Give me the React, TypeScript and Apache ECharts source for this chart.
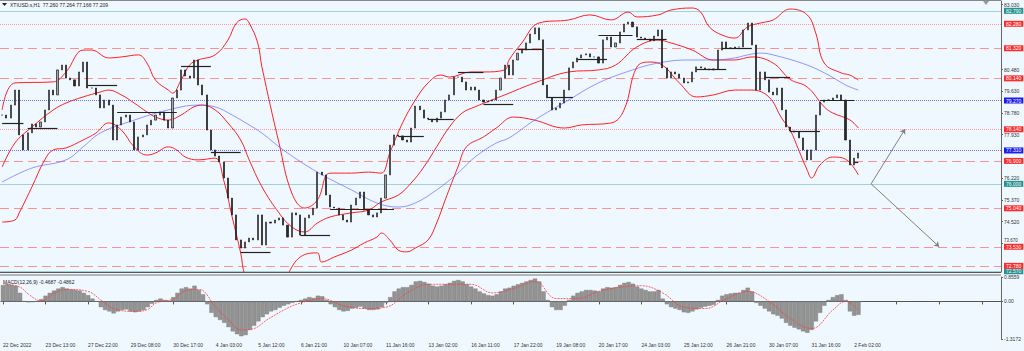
import React, { useEffect, useRef } from "react";
import * as echarts from "echarts";

// ---------- DATA ----------
const tickLabels = ["22 Dec 2022","23 Dec 13:00","27 Dec 22:00","29 Dec 08:00","30 Dec 17:00","4 Jan 03:00","5 Jan 12:00","6 Jan 21:00","10 Jan 07:00","11 Jan 16:00","13 Jan 02:00","16 Jan 11:00","17 Jan 22:00","19 Jan 08:00","20 Jan 17:00","24 Jan 03:00","25 Jan 12:00","26 Jan 21:00","30 Jan 07:00","31 Jan 16:00","2 Feb 02:00"];
const totalSlots = 235;

const closes = [
78.70,78.58,79.09,79.68,77.92,77.33,78.00,78.35,78.23,78.43,
78.90,79.68,79.49,80.47,80.66,80.15,80.08,79.84,80.39,80.78,
79.76,79.76,79.49,78.98,79.29,79.09,77.72,78.31,78.62,78.70,
78.43,77.33,77.84,77.92,78.31,78.50,78.70,78.82,78.50,78.19,
79.37,79.68,80.47,80.23,80.15,80.86,79.88,79.49,78.11,77.33,
77.09,76.86,76.23,75.44,74.78,73.80,73.48,73.72,73.87,73.80,
74.78,73.60,74.50,74.46,74.58,74.66,74.38,73.91,74.86,74.78,
73.99,74.66,74.78,75.05,76.46,76.35,75.56,75.09,75.05,74.78,
74.58,74.50,75.17,75.44,75.68,74.97,74.78,74.70,74.86,75.44,
76.35,77.52,77.92,77.88,77.72,77.64,78.19,79.05,78.90,78.58,
78.54,78.43,78.58,78.82,79.29,79.49,80.19,80.19,80.00,79.68,
79.80,79.68,79.29,79.21,79.25,79.29,79.68,80.15,80.66,80.27,
80.86,81.13,81.25,81.53,81.88,82.12,81.65,79.88,79.37,78.90,
78.98,79.17,79.68,80.55,80.78,80.94,81.06,81.10,80.98,80.98,
80.74,81.65,81.76,81.37,81.53,81.96,82.27,82.35,82.16,81.76,
81.72,81.68,81.61,81.80,82.04,80.55,80.15,80.39,80.31,80.15,
79.96,80.00,80.39,80.59,80.55,80.51,80.47,80.51,81.25,81.57,
81.33,81.33,81.37,81.37,82.04,82.31,81.45,79.68,80.39,80.08,
79.60,79.49,79.76,78.90,78.23,78.07,78.03,77.80,77.33,76.94,
77.33,78.70,79.21,79.29,79.29,79.37,79.49,79.29,77.72,76.74,
77.01,77.21
];

const bbUpper: [number, number][] = [[0,78.90],[3,79.96],[12,80.00],[15,80.39],[19,81.25],[21,81.25],[25,80.94],[28,80.98],[32,81.06],[34,80.74],[36,80.07],[39,79.68],[40,79.56],[42,80.07],[44,80.66],[46,80.86],[50,81.06],[53,81.64],[55,82.31],[57,82.47],[58,82.31],[60,81.53],[61,80.58],[65,77.60],[68,75.64],[71,75.05],[74,75.36],[77,76.42],[82,76.42],[86,76.46],[89,76.42],[91,77.21],[94,78.39],[97,79.29],[100,79.96],[103,80.27],[105,80.19],[110,80.39],[113,80.39],[118,80.47],[119,80.86],[122,81.53],[126,82.31],[133,82.43],[138,82.63],[143,82.43],[147,82.74],[149,82.55],[154,82.63],[157,82.82],[162,82.90],[164,82.74],[166,82.16],[169,81.84],[172,81.72],[175,82.16],[178,82.31],[181,82.43],[185,82.86],[189,82.63],[191,81.92],[193,80.74],[197,80.35],[199,80.27],[201,80.07]];
const bbMiddle: [number, number][] = [[0,76.66],[3,77.60],[7,78.23],[12,78.90],[15,79.17],[19,79.41],[23,79.60],[25,79.68],[28,79.49],[31,79.17],[34,78.82],[36,78.62],[39,78.50],[42,78.70],[45,79.02],[47,79.09],[50,78.90],[53,78.39],[56,77.72],[58,76.94],[61,75.88],[65,74.86],[68,74.31],[71,74.11],[74,74.46],[77,74.70],[82,74.86],[86,74.97],[89,75.29],[93,75.56],[96,76.03],[99,76.66],[102,77.45],[105,78.23],[108,78.78],[111,79.02],[115,79.29],[118,79.49],[125,79.96],[133,80.39],[140,80.47],[144,80.66],[149,81.37],[154,81.64],[157,81.53],[162,81.25],[167,80.86],[172,80.86],[176,80.98],[181,80.74],[185,80.10],[189,79.80],[193,79.02],[195,78.78],[199,78.51],[201,78.19]];
const bbLower: [number, number][] = [[0,74.50],[3,74.58],[4,74.86],[7,75.88],[10,76.94],[12,77.33],[15,77.41],[19,77.72],[22,77.99],[25,78.39],[28,78.11],[31,77.45],[34,77.13],[36,77.21],[39,77.45],[41,77.33],[43,77.05],[46,76.94],[50,77.01],[52,76.15],[54,74.70],[56,73.29],[57,72.42],[60,71.44],[63,70.97],[65,71.64],[67,72.42],[70,73.13],[74,73.29],[75,72.93],[78,73.13],[82,73.40],[85,73.68],[88,73.91],[89,74.07],[91,73.80],[93,73.40],[95,73.33],[97,73.48],[100,73.80],[102,74.46],[104,75.36],[107,76.66],[109,77.45],[113,77.84],[116,78.19],[120,78.62],[125,78.50],[132,78.19],[136,78.31],[143,78.39],[146,78.90],[149,80.58],[152,80.78],[155,80.66],[159,79.96],[163,79.41],[167,79.49],[172,79.68],[176,79.68],[180,79.41],[183,78.58],[185,78.11],[187,77.33],[189,76.54],[190,76.23],[192,76.74],[195,77.05],[198,76.97],[201,76.35]];
const maBlue: [number, number][] = [[0,76.07],[7,76.62],[15,76.94],[19,77.45],[23,77.99],[31,78.50],[39,78.90],[46,79.09],[50,79.02],[54,78.70],[58,78.31],[61,77.99],[66,77.33],[74,76.46],[82,75.76],[88,75.25],[93,75.09],[97,75.25],[102,75.76],[107,76.42],[111,77.05],[116,77.60],[119,77.80],[125,78.50],[133,79.29],[140,79.96],[148,80.47],[154,80.74],[161,80.86],[167,80.86],[172,80.94],[175,81.06],[178,81.13],[181,81.06],[189,80.66],[194,80.27],[198,79.88],[201,79.68]];

// [startIndex, endIndex, price]
const pivotSegments: [number, number, number][] = [[0,5,78.39],[6,13,78.19],[20,27,79.88],[27,41,78.82],[42,49,80.62],[49,56,77.25],[56,63,73.32],[70,77,73.99],[77,92,75.01],[93,99,77.88],[100,106,78.54],[107,113,80.39],[113,120,79.13],[121,127,81.29],[128,134,79.41],[135,142,80.90],[140,148,81.84],[149,156,81.68],[163,170,80.51],[169,176,81.33],[179,185,80.19],[185,192,78.07],[192,200,79.29],[200,201,76.86]];

const tealLevels = [82.789, 76.0, 72.571];
const redDashLevels = [81.319, 80.135, 76.897, 75.040, 73.529, 72.776];
const redDotLevels = [82.284, 78.145];
const blueDotLevels = [79.266, 77.313];
const lastPrice = 77.209;
const priceTicks = [83.03, 80.48, 79.63, 78.78, 77.93, 76.22, 75.37, 74.52, 73.67];

const arrowStart: [number, number] = [204, 76.0];
const arrowEnds: [number, number][] = [[212, 78.15], [220, 73.53]];

const macdHist = [
0.57,0.60,0.58,0.55,0.30,0.00,-0.03,-0.02,0.00,0.08,
0.20,0.30,0.38,0.45,0.50,0.45,0.42,0.40,0.38,0.30,
0.22,0.10,0.00,-0.20,-0.30,-0.35,-0.42,-0.35,-0.30,-0.28,
-0.35,-0.38,-0.35,-0.30,-0.20,-0.08,0.05,0.10,0.05,0.02,
0.15,0.30,0.45,0.50,0.45,0.55,0.40,0.25,-0.10,-0.40,
-0.55,-0.65,-0.75,-0.90,-1.05,-1.15,-1.22,-1.18,-1.00,-0.85,
-0.70,-0.55,-0.45,-0.35,-0.30,-0.22,-0.15,-0.10,-0.05,0.00,
0.05,0.10,0.15,0.12,0.20,0.18,0.05,-0.10,-0.20,-0.30,
-0.35,-0.33,-0.25,-0.22,-0.18,-0.25,-0.30,-0.30,-0.28,-0.20,
-0.05,0.15,0.35,0.45,0.50,0.50,0.58,0.70,0.72,0.68,
0.62,0.55,0.52,0.55,0.60,0.65,0.72,0.75,0.70,0.60,
0.52,0.45,0.35,0.28,0.22,0.20,0.25,0.35,0.45,0.48,
0.55,0.60,0.65,0.70,0.75,0.80,0.70,0.35,0.05,-0.20,
-0.30,-0.30,-0.15,0.05,0.20,0.30,0.35,0.40,0.40,0.38,
0.35,0.45,0.50,0.48,0.50,0.58,0.65,0.68,0.62,0.52,
0.45,0.40,0.35,0.35,0.40,0.10,-0.10,-0.20,-0.25,-0.30,
-0.38,-0.40,-0.35,-0.28,-0.22,-0.18,-0.15,-0.12,0.05,0.20,
0.25,0.28,0.30,0.30,0.40,0.48,0.35,-0.05,-0.15,-0.25,
-0.35,-0.45,-0.50,-0.60,-0.75,-0.85,-0.92,-0.98,-1.05,-1.10,
-1.00,-0.70,-0.40,-0.15,0.05,0.15,0.22,0.25,0.05,-0.35,
-0.50,-0.47
];
const macdSignal: [number, number][] = [[0,0.62],[4,0.50],[6,0.25],[9,0.02],[12,0.28],[15,0.42],[20,0.35],[23,0.05],[26,-0.25],[31,-0.35],[34,-0.28],[36,-0.05],[40,0.08],[43,0.38],[46,0.42],[50,-0.20],[53,-0.65],[56,-1.00],[59,-0.95],[62,-0.65],[66,-0.30],[70,-0.05],[75,0.10],[80,-0.15],[85,-0.25],[90,-0.20],[95,0.30],[100,0.60],[105,0.60],[110,0.60],[115,0.30],[120,0.45],[125,0.70],[130,0.10],[135,0.10],[140,0.35],[145,0.50],[150,0.55],[155,0.30],[160,-0.20],[165,-0.25],[170,0.10],[175,0.35],[180,0.00],[185,-0.60],[190,-0.95],[195,-0.30],[198,0.00],[201,-0.30]];
const macdTicks = [0.8559, 0, -1.3172];

// ---------- CHART ----------
const FONT = "Liberation Sans";

export default function App() {
  const ref = useRef<HTMLDivElement>(null);
  useEffect(() => {
    const chart = echarts.init(ref.current!, null, { renderer: "svg" });
    const cats = Array.from({ length: totalSlots }, (_, i) => String(i));
    const candles = closes.map((c, i) => {
      const o = i === 0 ? c : closes[i - 1];
      return [o, c, Math.min(o, c), Math.max(o, c)];
    });

    const boxLabel = (bg: string, fg = "#fff", extra: any = {}) => ({
      show: true,
      position: "end",
      formatter: (p: any) => Number(p.value).toFixed(3),
      backgroundColor: bg,
      color: fg,
      fontSize: 5,
      lineHeight: 6,
      fontFamily: FONT,
      padding: [0, 2, 0, 2],
      distance: 3,
      ...extra,
    });

    const levelLines: any[] = [];
    levelLines.push({ yAxis: lastPrice, lineStyle: { opacity: 0 }, label: boxLabel("#000", "#fff", { fontSize: 4, lineHeight: 4.5, offset: [0, 3] }) });
    tealLevels.forEach((v) => levelLines.push({ yAxis: v, lineStyle: { color: "#9fd2d6", type: "solid", width: 1 }, label: boxLabel("#2a9090", "#e8ffff") }));
    redDashLevels.forEach((v) => levelLines.push({ yAxis: v, lineStyle: { color: "#ff9090", type: [9, 5], width: 1 }, label: boxLabel("#ff2b2b") }));
    redDotLevels.forEach((v) => levelLines.push({ yAxis: v, lineStyle: { color: "#ff9a9a", type: [1, 1], width: 1 }, label: boxLabel("#ff2b2b") }));
    blueDotLevels.forEach((v) => levelLines.push({ yAxis: v, lineStyle: { color: "#7070ff", type: [1, 1], width: 1 }, label: boxLabel("#1c1cf0") }));

    const bandStyle = (color: string, width = 1) => ({
      type: "line", xAxisIndex: 0, yAxisIndex: 0, smooth: 0.4, showSymbol: false, symbol: "none",
      lineStyle: { color, width }, silent: true, z: 3,
    });

    // price tick closest to a box is lifted a little so both stay readable
    const nearBox = (v: number) => redDashLevels.some((l) => Math.abs(l - v) < 0.2);

    const option: any = {
      animation: false,
      backgroundColor: "#f0f8ff",
      grid: [
        { left: 0, right: 23, top: 1, height: 271 },
        { left: 0, right: 23, top: 277, height: 62 },
      ],
      xAxis: [
        { type: "category", data: cats, gridIndex: 0, show: false, boundaryGap: true },
        {
          type: "category", data: cats, gridIndex: 1, boundaryGap: true,
          axisLine: { lineStyle: { color: "#555" } },
          axisTick: { show: true, interval: 9, alignWithLabel: true, length: 3, lineStyle: { color: "#555" } },
          axisLabel: {
            interval: 9, align: "left", fontSize: 5, color: "#333", margin: 3, fontFamily: FONT,
            formatter: (_v: string, idx: number) => (idx % 10 === 0 ? tickLabels[idx / 10] ?? "" : ""),
          },
          splitLine: { show: false },
        },
      ],
      yAxis: [
        {
          type: "value", gridIndex: 0, position: "right", min: 72.54, max: 83.175,
          splitLine: { show: false },
          axisLine: { show: true, lineStyle: { color: "#666" } },
          axisTick: { show: true, length: 2, customValues: priceTicks, lineStyle: { color: "#666" } },
          axisLabel: {
            customValues: priceTicks,
            formatter: (v: number) => (nearBox(v) ? `{u|${v.toFixed(3)}}` : v.toFixed(3)),
            rich: { u: { fontSize: 4.5, lineHeight: 4.5, padding: [0, 0, 5, 0], color: "#333", fontFamily: FONT } },
            fontSize: 5, lineHeight: 5, color: "#333", margin: 3, fontFamily: FONT,
          },
        },
        {
          type: "value", gridIndex: 1, position: "right", min: -1.3172, max: 0.8559,
          splitLine: { show: false },
          axisLine: { show: true, lineStyle: { color: "#666" } },
          axisTick: { show: true, length: 2, customValues: macdTicks, lineStyle: { color: "#666" } },
          axisLabel: { customValues: macdTicks, formatter: (v: number) => (v === 0 ? "0.00" : v.toFixed(4)), fontSize: 5, color: "#333", margin: 3, fontFamily: FONT },
        },
      ],
      series: [
        {
          type: "candlestick", xAxisIndex: 0, yAxisIndex: 0, data: candles, barWidth: 1.6, z: 4,
          itemStyle: { color: "#a8a8a8", color0: "#2a2a2a", borderColor: "#1a1a1a", borderColor0: "#1a1a1a", borderWidth: 0.7 },
          markLine: { silent: true, symbol: ["none", "none"], animation: false, data: levelLines, z: 1 },
        },
        { ...bandStyle("#ff2020"), name: "upper", data: bbUpper },
        {
          ...bandStyle("#ff2020"), name: "middle", data: bbMiddle,
          markLine: {
            silent: true, symbol: ["none", "none"], animation: false,
            lineStyle: { color: "#222", width: 1.2, type: "solid" }, label: { show: false },
            data: pivotSegments.map(([a, b, p]) => [{ coord: [a, p] }, { coord: [b, p] }]),
          },
        },
        { ...bandStyle("#ff2020"), name: "lower", data: bbLower },
        {
          ...bandStyle("rgba(90,90,255,0.7)", 0.9), name: "ma", data: maBlue,
          markLine: {
            silent: true, symbol: ["none", "arrow"], symbolSize: 5, animation: false,
            lineStyle: { color: "#808080", width: 1, type: "solid" }, label: { show: false },
            data: arrowEnds.map((e) => [{ coord: arrowStart }, { coord: e }]),
          },
        },
        {
          type: "bar", xAxisIndex: 1, yAxisIndex: 1, data: macdHist, barCategoryGap: "0%",
          itemStyle: { color: "#939393", borderColor: "#7a7a7a", borderWidth: 0.4 }, silent: true,
        },
        {
          type: "line", xAxisIndex: 1, yAxisIndex: 1, data: macdSignal, smooth: 0.4, symbol: "none",
          lineStyle: { color: "#ff3b3b", width: 0.8, type: [2, 1] }, silent: true, z: 5,
        },
      ],
      graphic: [
        { type: "line", shape: { x1: 0, y1: 0.5, x2: 1001, y2: 0.5 }, style: { stroke: "#888", lineWidth: 1 }, silent: true },
        { type: "rect", shape: { x: 0, y: 272, width: 1001, height: 1 }, style: { fill: "#555" }, silent: true },
        { type: "rect", shape: { x: 0, y: 274.5, width: 1001, height: 1 }, style: { fill: "#777" }, silent: true },
        { type: "polygon", shape: { points: [[2, 3], [7, 3], [4.5, 6]] }, style: { fill: "#222" }, silent: true },
        { type: "text", x: 10, y: 2, style: { text: "XTIUSD.s,H1  77.260 77.264 77.166 77.209", fontSize: 5, fill: "#222", fontFamily: FONT }, silent: true },
        { type: "text", x: 3, y: 279, style: { text: "MACD(12,26,9) -0.4687 -0.4862", fontSize: 5, fill: "#222", fontFamily: FONT }, silent: true },
        { type: "polygon", shape: { points: [[983, 1], [989, 1], [986, 5]] }, style: { fill: "#999" }, silent: true },
      ],
    };
    chart.setOption(option);
    return () => chart.dispose();
  }, []);
  return <div ref={ref} style={{ position: "absolute", left: 0, top: 0, width: 1024, height: 351, background: "#f0f8ff" }} />;
}
